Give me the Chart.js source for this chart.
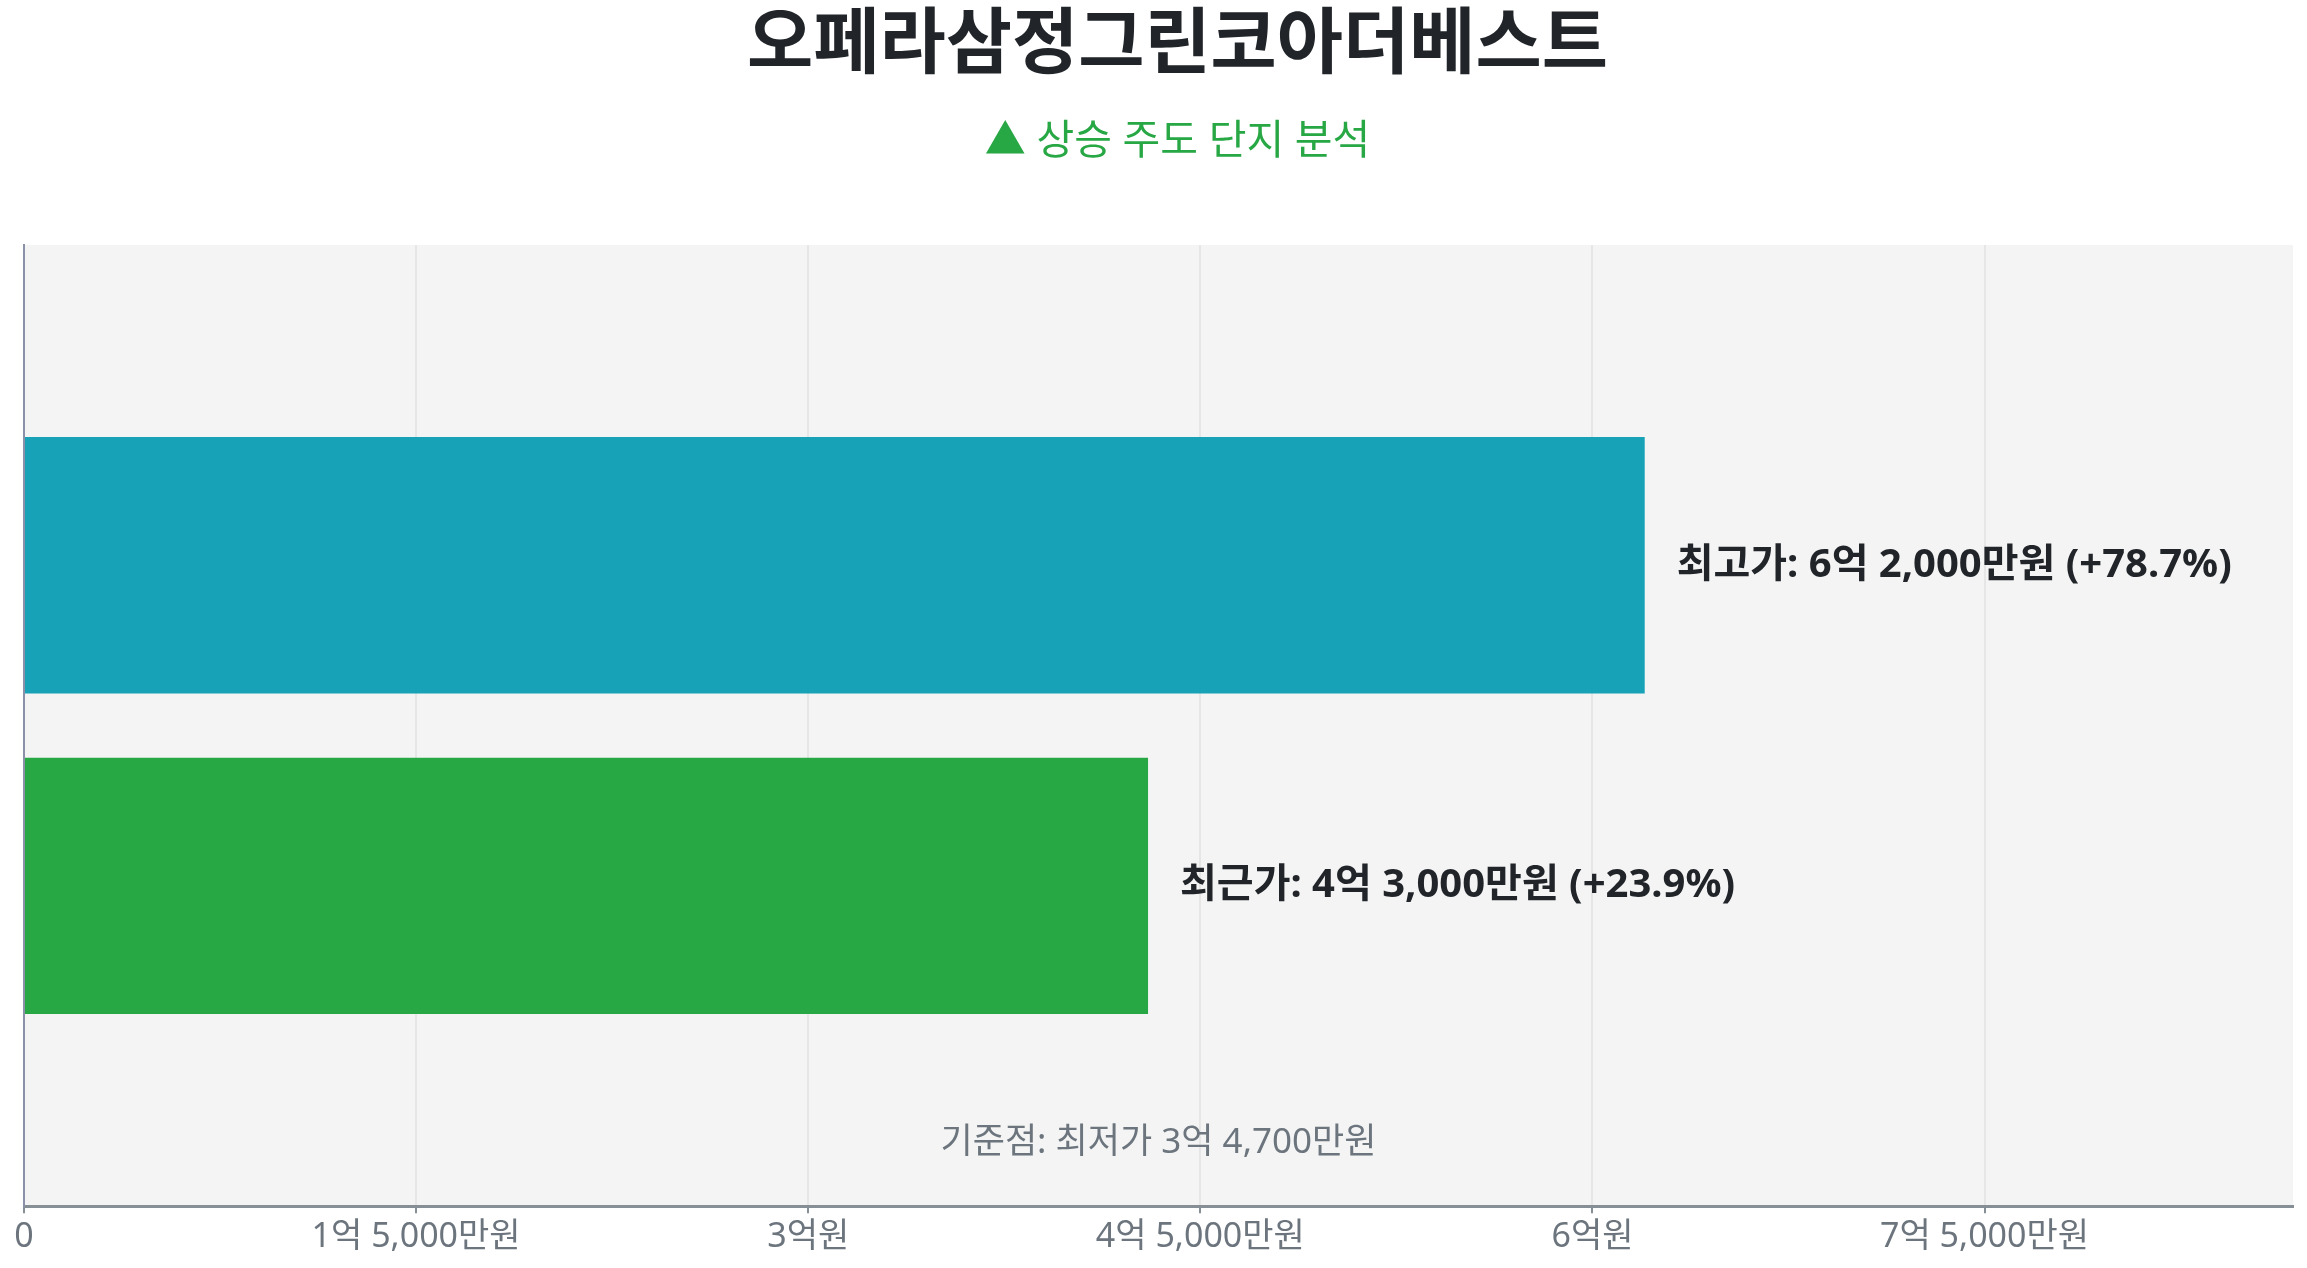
<!DOCTYPE html>
<html>
<head>
<meta charset="utf-8">
<script src="https://cdn.jsdelivr.net/npm/chart.js@4.4.0/dist/chart.umd.min.js"></script>
<style>
  html, body { margin: 0; padding: 0; background: #ffffff; }
  #wrap { width: 2307px; height: 1268px; }
</style>
</head>
<body>
<div id="wrap"><canvas id="c" width="2307" height="1268"></canvas></div>
<script>
// ---- data ----
const chartTitle = '오페라삼정그린코아더베스트';
const chartSubtitle = '▲ 상승 주도 단지 분석';
const categories = [''];
const seriesNames = ['최고가', '최근가'];
const highValues = [620000000];
const recentValues = [430000000];
const baseLabel = '최저가';
const baseValue = 347000000;
const axisMax = 868000000;
const tickValues = [0, 150000000, 300000000, 450000000, 600000000, 750000000];
const tickLabels = ['0', '1억 5,000만원', '3억원', '4억 5,000만원', '6억원', '7억 5,000만원'];

const FONT = "'Noto Sans', 'Noto Sans CJK KR', sans-serif";

function formatWon(v) {
  if (v === 0) return '0';
  const eok = Math.floor(v / 100000000);
  const man = Math.round((v % 100000000) / 10000);
  let s = '';
  if (eok > 0) s += eok + '억';
  if (man > 0) s += (s ? ' ' : '') + man.toLocaleString('en-US') + '만원';
  else s += '원';
  return s;
}

const bgPlugin = {
  id: 'plotBg',
  beforeDraw(chart) {
    const { ctx, chartArea: a } = chart;
    ctx.save();
    ctx.fillStyle = '#f4f4f4';
    ctx.fillRect(a.left, a.top, a.right - a.left, a.bottom - a.top);
    ctx.restore();
  }
};

const textPlugin = {
  id: 'texts',
  afterDraw(chart) {
    const { ctx, chartArea: a } = chart;
    ctx.save();
    const cx = chart.width / 2 + 24;
    ctx.textAlign = 'center';
    ctx.textBaseline = 'middle';
    ctx.fillStyle = '#212529';
    ctx.font = `bold 72px ${FONT}`;
    ctx.fillText(chartTitle, cx, 46);
    ctx.fillStyle = '#28a745';
    ctx.font = `41px ${FONT}`;
    ctx.fillText(chartSubtitle, cx, 142);
    ctx.textAlign = 'left';
    ctx.fillStyle = '#212529';
    ctx.font = `bold 40px ${FONT}`;
    chart.data.datasets.forEach((ds, di) => {
      const meta = chart.getDatasetMeta(di);
      meta.data.forEach((bar, i) => {
        const v = ds.data[i];
        const pct = ((v / baseValue - 1) * 100).toFixed(1);
        const txt = `${ds.label}: ${formatWon(v)} (+${pct}%)`;
        ctx.fillText(txt, bar.x + 32, bar.y);
      });
    });
    ctx.textAlign = 'center';
    ctx.fillStyle = '#6c757d';
    ctx.font = `35px ${FONT}`;
    ctx.fillText(`기준점: ${baseLabel} ${formatWon(baseValue)}`, (a.left + a.right) / 2, a.bottom - 63);
    ctx.restore();
  }
};

new Chart(document.getElementById('c'), {
  type: 'bar',
  data: {
    labels: categories,
    datasets: [
      { label: seriesNames[0], data: highValues, backgroundColor: '#17a2b8' },
      { label: seriesNames[1], data: recentValues, backgroundColor: '#28a745' }
    ]
  },
  options: {
    indexAxis: 'y',
    responsive: false,
    animation: false,
    devicePixelRatio: 1,
    categoryPercentage: 0.667,
    barPercentage: 0.8,
    layout: { padding: { top: 245, left: 24, right: 14, bottom: 6 } },
    plugins: { legend: { display: false }, title: { display: false }, tooltip: { enabled: false } },
    scales: {
      x: {
        min: 0,
        max: axisMax,
        afterBuildTicks(scale) {
          scale.ticks = tickValues.map(v => ({ value: v }));
        },
        ticks: {
          color: '#6c757d',
          font: { family: FONT, size: 34 },
          padding: 4,
          maxRotation: 0,
          autoSkip: false,
          callback: (v, i) => tickLabels[i]
        },
        grid: { color: '#e6e6e6', lineWidth: 2, tickColor: '#868e96', tickLength: 7, drawOnChartArea: true },
        border: { color: '#868e96', width: 3 }
      },
      y: {
        ticks: { display: false },
        grid: { display: false, drawTicks: false },
        border: { color: '#8a91a8', width: 2 }
      }
    }
  },
  plugins: [bgPlugin, textPlugin]
});
</script>
</body>
</html>
